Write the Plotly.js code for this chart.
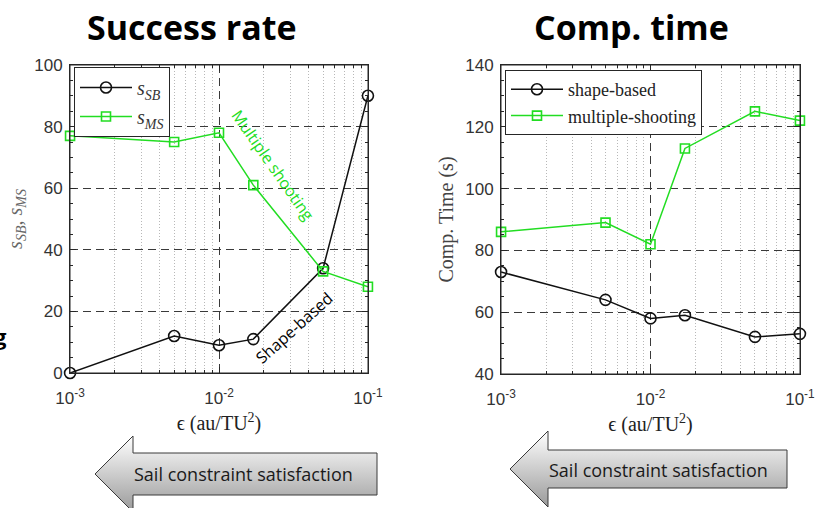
<!DOCTYPE html>
<html><head><meta charset="utf-8">
<script src="https://cdn.plot.ly/plotly-3.0.1.min.js"></script>
<style>html,body{margin:0;padding:0;background:#fff;} #chart{width:815px;height:508px;}</style>
</head><body><div id="chart"></div>
<script>
// ---- data ----
const epsilon = [0.001, 0.005, 0.01, 0.017, 0.05, 0.1];
const successShapeBased = [0, 12, 9, 11, 34, 90];
const successMultipleShooting = [77, 75, 78, 61, 33, 28];
const timeShapeBased = [73, 64, 58, 59, 52, 53];
const timeMultipleShooting = [86, 89, 82, 113, 125, 122];
const majorTickVals = [0.001, 0.01, 0.1];
const majorTickText = ['10<sup>-3</sup>', '10<sup>-2</sup>', '10<sup>-1</sup>'];
const minorTickVals = [0.002,0.003,0.004,0.005,0.006,0.007,0.008,0.009,0.02,0.03,0.04,0.05,0.06,0.07,0.08,0.09];
const panelTitles = ['Success rate', 'Comp. time'];
const arrowLabel = 'Sail constraint satisfaction';

const W = 815, H = 508;
const px = x => x / W;
const py = y => 1 - y / H;
const GREEN = '#22dd22';
const AX = '#262626';

function xAxis(domain, anchor) {
  return {
    type: 'log', range: [-3.0004, -0.9996], domain: domain, anchor: anchor,
    tickmode: 'array', tickvals: majorTickVals, ticktext: majorTickText,
    showgrid: true, gridcolor: '#3a3a3a', griddash: '8px,5px', gridwidth: 1,
    showline: true, linecolor: AX, linewidth: 1, mirror: 'ticks',
    ticks: 'inside', ticklen: 6, tickcolor: AX,
    minor: {tickmode: 'array', tickvals: minorTickVals, ticks: 'inside', ticklen: 3, tickcolor: AX,
            showgrid: true, gridcolor: '#b8b8b8', griddash: '1px,2px', gridwidth: 1},
    tickfont: {family: 'Liberation Sans, Arial, sans-serif', size: 17, color: '#333'},
    ticklabelstandoff: 10, ticklabeloverflow: 'allow',
    title: {text: 'ϵ (au/TU<sup>2</sup>)', font: {family: 'Liberation Serif, serif', size: 20, color: '#222'}, standoff: 8},
    zeroline: false, automargin: false, fixedrange: true
  };
}
function yAxis(domain, anchor, range, titleText, titleColor) {
  return {
    range: range, domain: domain, anchor: anchor, dtick: 20, tick0: 0,
    showgrid: true, gridcolor: '#3a3a3a', griddash: '8px,5px', gridwidth: 1,
    showline: true, linecolor: AX, linewidth: 1, mirror: 'ticks',
    ticks: 'inside', ticklen: 6, tickcolor: AX,
    minor: {dtick: 5, tick0: 0, ticks: 'inside', ticklen: 3, tickcolor: AX, showgrid: false},
    tickfont: {family: 'Liberation Sans, Arial, sans-serif', size: 17, color: '#333'},
    ticklabelstandoff: 3, ticklabeloverflow: 'allow',
    title: {text: titleText, font: {family: 'Liberation Serif, serif', size: 20, color: titleColor}, standoff: 6},
    zeroline: false, automargin: false, fixedrange: true
  };
}

const traces = [
  {x: epsilon, y: successShapeBased, xaxis: 'x', yaxis: 'y', mode: 'lines+markers',
   name: '<i>s</i><sub><i>SB</i></sub>', legend: 'legend', cliponaxis: false,
   line: {color: '#111', width: 1.5}, marker: {symbol: 'circle-open', size: 11, color: '#111', line: {width: 1.6}}},
  {x: epsilon, y: successMultipleShooting, xaxis: 'x', yaxis: 'y', mode: 'lines+markers',
   name: '<i>s</i><sub><i>MS</i></sub>', legend: 'legend', cliponaxis: false,
   line: {color: GREEN, width: 1.5}, marker: {symbol: 'square-open', size: 9, color: GREEN, line: {width: 1.6}}},
  {x: epsilon, y: timeShapeBased, xaxis: 'x2', yaxis: 'y2', mode: 'lines+markers',
   name: 'shape-based', legend: 'legend2', cliponaxis: false,
   line: {color: '#111', width: 1.5}, marker: {symbol: 'circle-open', size: 11, color: '#111', line: {width: 1.6}}},
  {x: epsilon, y: timeMultipleShooting, xaxis: 'x2', yaxis: 'y2', mode: 'lines+markers',
   name: 'multiple-shooting', legend: 'legend2', cliponaxis: false,
   line: {color: GREEN, width: 1.5}, marker: {symbol: 'square-open', size: 9, color: GREEN, line: {width: 1.6}}}
];

function arrowImage(tipX, tipY, headX, headHalf, bodyHalf, rightX) {
  const w = rightX - tipX, h = 2 * headHalf, hx = headX - tipX;
  const pts = [[0, headHalf], [hx, 0], [hx, headHalf - bodyHalf], [w, headHalf - bodyHalf],
               [w, headHalf + bodyHalf], [hx, headHalf + bodyHalf], [hx, h]];
  const svg = '<svg xmlns="http://www.w3.org/2000/svg" width="' + (w + 2) + '" height="' + (h + 2) +
    '" viewBox="-1 -1 ' + (w + 2) + ' ' + (h + 2) + '"><defs><linearGradient id="g" x1="0" y1="0" x2="0" y2="1">' +
    '<stop offset="0" stop-color="#ffffff"/><stop offset="1" stop-color="#9a9a9a"/></linearGradient></defs>' +
    '<polygon points="' + pts.map(p => p.join(',')).join(' ') + '" fill="url(#g)" stroke="#3a3a3a" stroke-width="1"/></svg>';
  return {source: 'data:image/svg+xml;charset=utf-8,' + encodeURIComponent(svg),
    xref: 'paper', yref: 'paper', x: px(tipX - 1), y: py(tipY - headHalf - 1),
    sizex: (w + 2) / W, sizey: (h + 2) / H, xanchor: 'left', yanchor: 'top', sizing: 'stretch', layer: 'above'};
}

function note(text, x, y, font, extra) {
  return Object.assign({text: text, x: px(x), y: py(y), xref: 'paper', yref: 'paper',
    xanchor: 'center', yanchor: 'middle', showarrow: false, font: font}, extra || {});
}
const titleFont = {family: 'Open Sans, sans-serif', size: 34, color: '#000', weight: 'bold'};
const arrowFont = {family: 'Open Sans, sans-serif', size: 18, color: '#1a1a1a'};
const annotations = [
  note('<b>' + panelTitles[0] + '</b>', 192, 27, titleFont),
  note('<b>' + panelTitles[1] + '</b>', 631, 27, titleFont),
  note('Multiple shooting', 273, 165, {family: 'Open Sans, sans-serif', size: 16, color: GREEN}, {textangle: 55}),
  note('Shape-based', 294, 328, {family: 'Open Sans, sans-serif', size: 16, color: '#000'}, {textangle: -42}),
  note(arrowLabel, 243, 474, arrowFont),
  note(arrowLabel, 658, 470, arrowFont),
  note('<b>g</b>', 9, 336, {family: 'Open Sans, sans-serif', size: 22, color: '#000'}, {xanchor: 'right'})
];

// plot-box borders (MATLAB "box on")
const shapes = ['x', 'x2'].map((xa, i) => ({
  type: 'rect', xref: xa + ' domain', yref: (i ? 'y2' : 'y') + ' domain', x0: 0, x1: 1, y0: 0, y1: 1,
  line: {color: AX, width: 1}, fillcolor: 'rgba(0,0,0,0)', layer: 'above'
}));

const legendBase = {xanchor: 'left', yanchor: 'top', bgcolor: '#fff', bordercolor: AX, borderwidth: 1,
  tracegroupgap: 0, itemwidth: 52};

const layout = {
  width: W, height: H, margin: {l: 0, r: 0, t: 0, b: 0},
  paper_bgcolor: '#fff', plot_bgcolor: '#fff', showlegend: true,
  xaxis: xAxis([px(70), px(368)], 'y'),
  yaxis: yAxis([py(373), py(65)], 'x', [0, 100], '<i>s<sub>SB</sub>, s<sub>MS</sub></i>', '#666'),
  xaxis2: xAxis([px(501), px(800)], 'y2'),
  yaxis2: yAxis([py(374), py(65)], 'x2', [40, 140], 'Comp. Time (s)', '#444'),
  legend: Object.assign({}, legendBase, {x: px(74), y: py(67),
    font: {family: 'Liberation Serif, serif', size: 20, color: '#333'}}),
  legend2: Object.assign({}, legendBase, {x: px(505), y: py(70),
    font: {family: 'Liberation Serif, serif', size: 18, color: '#222'}}),
  annotations: annotations,
  shapes: shapes,
  images: [arrowImage(95, 474, 133, 38, 21, 377), arrowImage(510, 469, 548, 38, 19, 787)]
};

Plotly.newPlot('chart', traces, layout, {displayModeBar: false, staticPlot: true});
</script></body></html>
